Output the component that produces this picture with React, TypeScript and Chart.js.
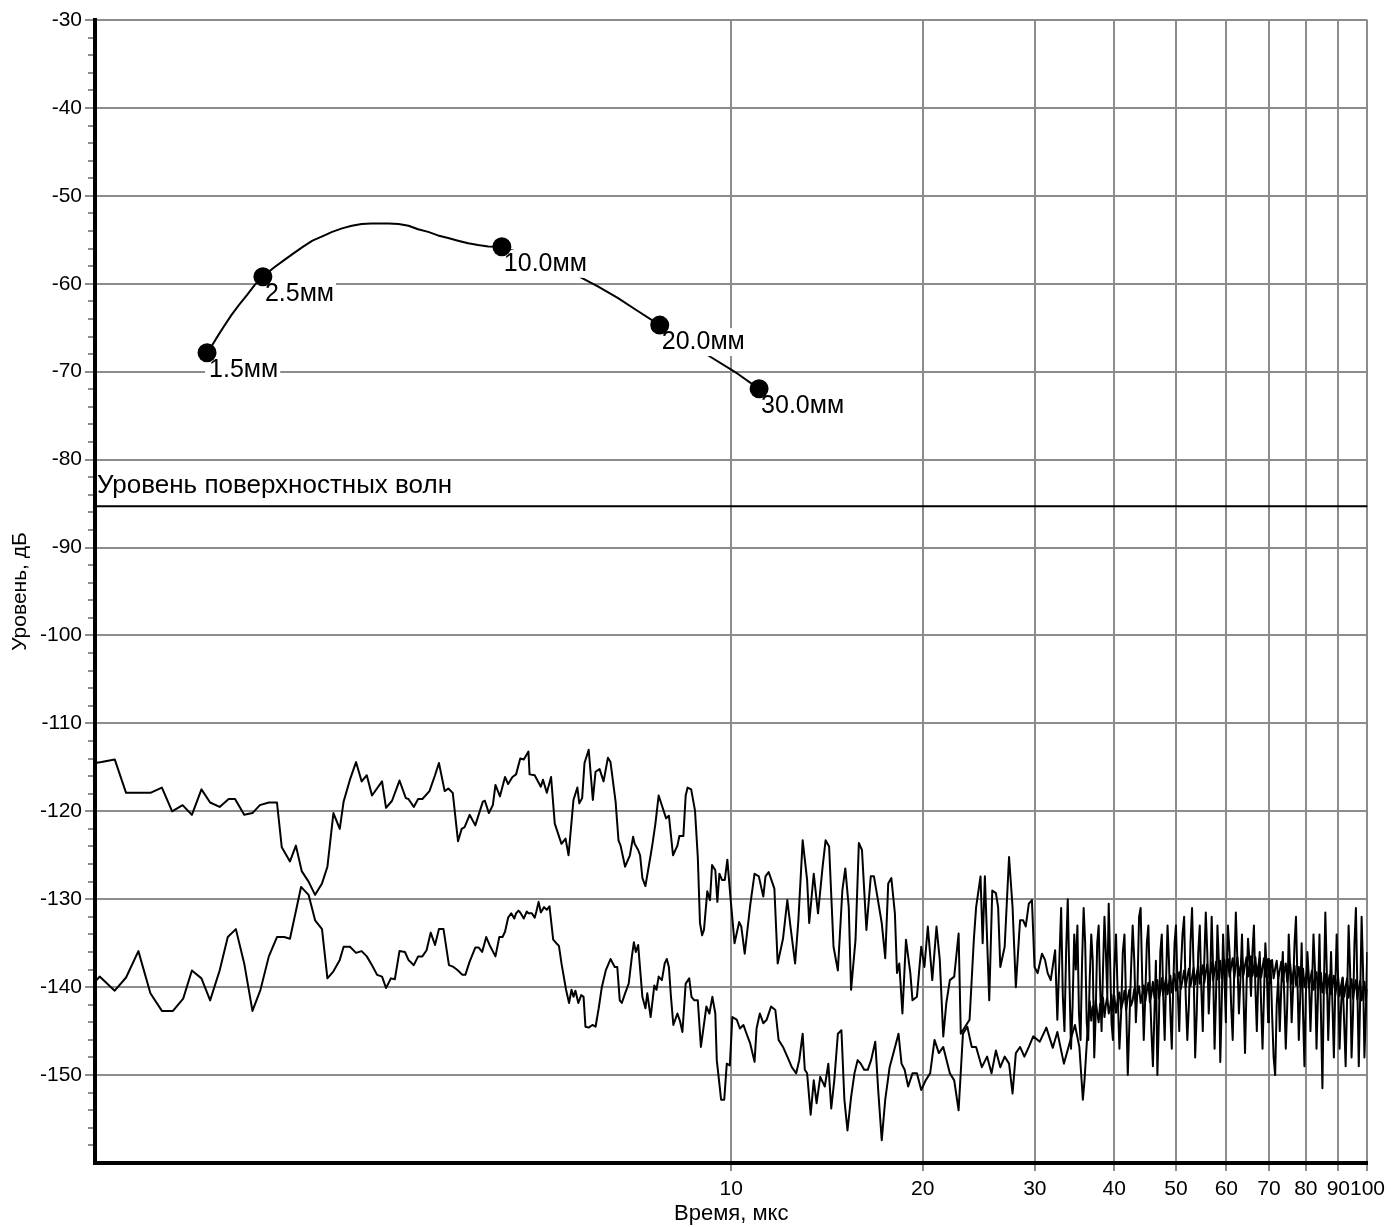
import React, { useEffect, useRef } from "react";
import { Chart, registerables } from "chart.js";

Chart.register(...registerables);

const FONT = '"Liberation Sans", Arial, Helvetica, sans-serif';

// time (µs), level (dB)
const upperSeries: number[][] = [
  [1.0, -114.5], [1.024, -114.4], [1.074, -114.1], [1.119, -117.9], [1.222, -117.9], [1.274, -117.3],
  [1.322, -120.0], [1.373, -119.3], [1.42, -120.4], [1.47, -117.5], [1.517, -119.0], [1.57, -119.5],
  [1.622, -118.6], [1.66, -118.6], [1.716, -120.4], [1.768, -120.2], [1.816, -119.3], [1.876, -119.0],
  [1.932, -119.0], [1.966, -124.1], [2.025, -125.7], [2.069, -123.9], [2.113, -126.8], [2.166, -128.0],
  [2.218, -129.5], [2.274, -128.2], [2.319, -126.3], [2.37, -120.2], [2.425, -122.0], [2.459, -118.9],
  [2.516, -116.4], [2.572, -114.4], [2.625, -116.6], [2.674, -115.9], [2.725, -118.2], [2.826, -116.6],
  [2.867, -119.6], [2.93, -118.8], [3.01, -116.5], [3.08, -118.5], [3.109, -118.6], [3.17, -119.5],
  [3.22, -118.6], [3.27, -118.6], [3.355, -117.7], [3.423, -115.9], [3.472, -114.5], [3.545, -117.7],
  [3.592, -117.4], [3.65, -117.9], [3.72, -123.4], [3.77, -122.0], [3.81, -121.8], [3.88, -120.4],
  [3.96, -121.6], [4.07, -118.9], [4.1, -118.8], [4.16, -120.2], [4.22, -119.3], [4.26, -117.0],
  [4.33, -118.3], [4.41, -116.1], [4.46, -116.9], [4.53, -116.1], [4.59, -115.8], [4.66, -114.0],
  [4.72, -114.1], [4.8, -113.2], [4.82, -115.8], [4.91, -115.9], [5.02, -117.2], [5.06, -116.4],
  [5.13, -117.9], [5.21, -116.1], [5.28, -121.4], [5.41, -123.7], [5.49, -123.1], [5.55, -125.0],
  [5.65, -118.7], [5.73, -117.3], [5.77, -119.1], [5.83, -118.5], [5.88, -114.5], [5.97, -113.0],
  [6.06, -118.7], [6.12, -115.5], [6.21, -115.2], [6.3, -116.6], [6.4, -113.9], [6.46, -114.4],
  [6.58, -118.9], [6.65, -123.3], [6.7, -123.9], [6.81, -126.3], [6.93, -125.0], [7.01, -122.9],
  [7.05, -123.7], [7.14, -124.4], [7.19, -125.0], [7.25, -127.6], [7.33, -128.5], [7.47, -125.0],
  [7.52, -123.7], [7.6, -121.4], [7.69, -118.2], [7.9, -120.8], [7.98, -120.5], [8.1, -125.0],
  [8.23, -123.9], [8.29, -122.8], [8.41, -122.8], [8.48, -118.2], [8.54, -117.3], [8.65, -117.5],
  [8.77, -119.9], [8.86, -125.2], [8.93, -132.7], [9.0, -134.1], [9.06, -133.5], [9.17, -129.1],
  [9.26, -130.1], [9.33, -126.1], [9.44, -126.7], [9.51, -130.3], [9.58, -127.1], [9.67, -127.8],
  [9.77, -127.8], [9.86, -125.5], [9.97, -129.7], [10.12, -135.0], [10.29, -132.6], [10.37, -133.1],
  [10.5, -136.2], [10.71, -130.7], [10.88, -127.1], [11.05, -127.4], [11.23, -129.7], [11.32, -127.4],
  [11.45, -126.9], [11.69, -128.8], [11.83, -137.3], [12.06, -134.5], [12.25, -130.1], [12.39, -133.1],
  [12.6, -137.3], [12.75, -132.4], [12.95, -123.3], [13.16, -127.8], [13.26, -132.7], [13.48, -127.1],
  [13.69, -131.6], [13.92, -126.3], [14.07, -123.3], [14.25, -124.0], [14.48, -135.4], [14.71, -138.1],
  [14.95, -129.0], [15.11, -126.5], [15.3, -130.9], [15.43, -140.3], [15.68, -134.6], [15.87, -123.6],
  [16.05, -124.4], [16.31, -133.5], [16.57, -127.4], [16.76, -127.4], [16.97, -129.7], [17.24, -132.7],
  [17.46, -136.7], [17.65, -128.2], [17.85, -127.6], [18.08, -131.6], [18.22, -138.4], [18.37, -137.3],
  [18.58, -143.0], [18.82, -134.6], [19.12, -138.4], [19.27, -141.5], [19.58, -141.1], [19.89, -135.4],
  [20.12, -137.7], [20.37, -133.1], [20.7, -139.2], [21.02, -133.1], [21.27, -136.9], [21.54, -145.6],
  [21.78, -141.8], [22.06, -139.2], [22.41, -138.8], [22.77, -133.9], [22.95, -145.3], [23.31, -144.5],
  [23.69, -143.7], [24.06, -134.6], [24.26, -130.9], [24.65, -127.4], [24.84, -135.0], [25.04, -127.4],
  [25.44, -141.5], [25.72, -129.0], [26.06, -129.3], [26.27, -130.9], [26.48, -137.7], [26.9, -135.4],
  [27.33, -125.2], [27.68, -130.9], [28.01, -140.0], [28.44, -132.4], [28.76, -132.4], [29.03, -133.1],
  [29.36, -130.5], [29.69, -130.1], [29.97, -137.7], [30.31, -138.4], [30.79, -136.2], [31.13, -136.9],
  [31.43, -138.4], [31.78, -139.2], [32.29, -135.8], [32.55, -143.7],
  [33.0, -131], [33.2, -141], [33.4, -145], [33.6, -136], [33.8, -130], [34.0, -139], [34.2, -147],
  [34.4, -142], [34.6, -134], [34.8, -138], [35.0, -133], [35.2, -143], [35.4, -146], [35.6, -137],
  [35.8, -131], [36.0, -135], [36.2, -144], [36.4, -146], [36.6, -139], [36.8, -134], [37.0, -137],
  [37.2, -148], [37.4, -143], [37.6, -135], [37.8, -133], [38.0, -140], [38.2, -145], [38.4, -138],
  [38.6, -132], [38.8, -136], [39.0, -141], [39.2, -130.5], [39.4, -137], [39.6, -144], [39.8, -146],
  [40.0, -138], [40.25, -134], [40.5, -141], [40.75, -147], [41.0, -143], [41.25, -136], [41.5, -134],
  [41.75, -142], [42.0, -150], [42.25, -144], [42.5, -138], [42.75, -133], [43.0, -137], [43.25, -144],
  [43.5, -140], [43.75, -132], [44.0, -131], [44.25, -139], [44.5, -146], [44.75, -141], [45.0, -135],
  [45.25, -133], [45.5, -140], [45.75, -145], [46.0, -149], [46.25, -143], [46.5, -137], [46.75, -150],
  [47.0, -144], [47.25, -136], [47.5, -134], [47.75, -141], [48.0, -146], [48.25, -139], [48.5, -133],
  [48.75, -137], [49.0, -143], [49.25, -147], [49.5, -140], [49.75, -135],
  [50.0, -133], [50.3, -140], [50.6, -145], [50.9, -138], [51.2, -134], [51.5, -132], [51.8, -141],
  [52.1, -146], [52.4, -142], [52.7, -135], [53.0, -131], [53.3, -138], [53.6, -148], [53.9, -143],
  [54.2, -136], [54.5, -133], [54.8, -140], [55.1, -145], [55.4, -137], [55.7, -131.5], [56.0, -136],
  [56.3, -143], [56.6, -139], [56.9, -132], [57.2, -138], [57.5, -147], [57.8, -141], [58.1, -133],
  [58.4, -137], [58.7, -148.5], [59.0, -142], [59.3, -134], [59.6, -139], [59.9, -144],
  [60.0, -140], [60.35, -133], [60.7, -136], [61.05, -142], [61.4, -146], [61.75, -138], [62.1, -131.5],
  [62.45, -137], [62.8, -143], [63.15, -139], [63.5, -134], [63.85, -141], [64.2, -147.5], [64.55, -140],
  [64.9, -134.5], [65.25, -137], [65.6, -141], [65.95, -136], [66.3, -133], [66.65, -140], [67.0, -145],
  [67.35, -139], [67.7, -136], [68.05, -142], [68.4, -147], [68.75, -141], [69.1, -135], [69.45, -138],
  [69.8, -144],
  [70.0, -140], [70.4, -137], [70.8, -143], [71.2, -148], [71.6, -150], [72.0, -142], [72.4, -139],
  [72.8, -145], [73.2, -140], [73.6, -136], [74.0, -141], [74.4, -147], [74.8, -142], [75.2, -134],
  [75.6, -138], [76.0, -144], [76.4, -140], [76.8, -135], [77.2, -132], [77.6, -139], [78.0, -146],
  [78.4, -141], [78.8, -135], [79.2, -143], [79.6, -149],
  [80.0, -141], [80.45, -136], [80.9, -139], [81.35, -145], [81.8, -140], [82.25, -134], [82.7, -138],
  [83.15, -147], [83.6, -141], [84.05, -134], [84.5, -143], [84.95, -151.5], [85.4, -140], [85.85, -131.5],
  [86.3, -138], [86.75, -146], [87.2, -141], [87.65, -136], [88.1, -142], [88.55, -148], [89.0, -140],
  [89.45, -134], [89.9, -139],
  [90.4, -147], [90.9, -142], [91.4, -139], [91.9, -144], [92.4, -149], [92.9, -141], [93.4, -133],
  [93.9, -138], [94.4, -148], [94.9, -143], [95.4, -135], [95.9, -131], [96.4, -140], [96.9, -149],
  [97.4, -141], [97.9, -132], [98.4, -138], [98.9, -148], [99.4, -143], [99.9, -136],
];

const lowerSeries: number[][] = [
  [1.0, -139.4], [1.017, -138.8], [1.074, -140.4], [1.119, -138.9], [1.17, -135.9], [1.222, -140.7],
  [1.274, -142.7], [1.326, -142.7], [1.376, -141.3], [1.42, -138.1], [1.47, -139.0], [1.517, -141.5],
  [1.57, -138.1], [1.617, -134.3], [1.665, -133.4], [1.716, -137.3], [1.768, -142.7], [1.82, -140.3],
  [1.876, -136.5], [1.932, -134.3], [1.983, -134.3], [2.025, -134.5], [2.108, -128.6], [2.166, -129.5],
  [2.218, -132.4], [2.274, -133.4], [2.319, -139.0], [2.37, -138.2], [2.425, -136.9], [2.459, -135.4],
  [2.516, -135.4], [2.572, -136.1], [2.625, -135.9], [2.674, -136.5], [2.725, -137.5], [2.776, -138.6],
  [2.826, -138.8], [2.867, -140.1], [2.918, -139.0], [2.96, -139.1], [3.01, -135.9], [3.07, -136.0],
  [3.109, -136.9], [3.17, -137.5], [3.22, -136.5], [3.27, -136.5], [3.32, -135.8], [3.37, -133.8],
  [3.423, -135.2], [3.472, -133.4], [3.53, -133.4], [3.6, -137.5], [3.66, -137.7], [3.72, -138.1],
  [3.78, -138.6], [3.82, -138.6], [3.88, -137.1], [3.96, -135.5], [4.01, -135.5], [4.06, -136.0],
  [4.12, -134.3], [4.17, -135.2], [4.26, -136.5], [4.32, -134.3], [4.37, -134.3], [4.41, -133.7],
  [4.46, -132.1], [4.51, -131.6], [4.56, -132.2], [4.59, -131.6], [4.63, -131.3], [4.66, -131.5],
  [4.72, -132.2], [4.77, -131.4], [4.8, -131.6], [4.86, -131.6], [4.91, -132.1], [4.94, -131.4],
  [4.98, -130.3], [5.02, -131.5], [5.08, -130.9], [5.13, -131.2], [5.18, -130.8], [5.25, -134.6],
  [5.31, -135.0], [5.36, -135.3], [5.41, -137.3], [5.5, -140.3], [5.56, -141.8], [5.61, -140.3],
  [5.65, -141.1], [5.69, -140.4], [5.75, -141.8], [5.81, -140.9], [5.86, -141.1], [5.9, -144.5],
  [5.97, -144.6], [6.05, -144.3], [6.12, -144.5], [6.19, -142.4], [6.26, -140.0], [6.35, -138.1],
  [6.46, -136.8], [6.56, -137.7], [6.62, -137.7], [6.68, -141.5], [6.73, -141.8], [6.81, -140.7],
  [6.9, -139.6], [6.98, -136.5], [7.03, -134.9], [7.08, -136.0], [7.14, -135.2], [7.25, -141.1],
  [7.33, -142.4], [7.38, -140.7], [7.47, -143.4], [7.57, -139.8], [7.63, -140.3], [7.69, -138.8],
  [7.78, -139.2], [7.86, -137.3], [7.92, -136.8], [7.98, -137.7], [8.04, -141.1], [8.11, -144.3],
  [8.23, -143.0], [8.31, -143.9], [8.38, -145.1], [8.48, -139.6], [8.59, -139.0], [8.66, -141.1],
  [8.75, -141.5], [8.86, -141.5], [8.96, -146.8], [9.14, -142.2], [9.24, -143.0], [9.34, -141.1],
  [9.44, -143.0], [9.49, -148.3], [9.64, -152.8], [9.75, -152.8], [9.84, -148.7], [9.95, -148.9],
  [10.04, -143.4], [10.2, -143.7], [10.32, -144.7], [10.45, -144.3], [10.57, -145.3], [10.71, -146.4],
  [10.88, -148.5], [10.96, -144.7], [11.09, -143.0], [11.23, -144.1], [11.37, -143.7], [11.55, -142.2],
  [11.73, -142.6], [11.87, -146.0], [12.06, -146.8], [12.25, -147.9], [12.45, -149.1], [12.65, -149.8],
  [12.79, -148.3], [12.95, -145.3], [13.05, -149.4], [13.16, -149.8], [13.33, -154.5], [13.48, -150.6],
  [13.62, -153.2], [13.8, -150.2], [14.03, -151.3], [14.21, -148.7], [14.36, -153.8], [14.52, -150.6],
  [14.71, -145.3], [14.9, -144.9], [15.06, -152.8], [15.23, -156.3], [15.43, -152.5], [15.62, -149.8],
  [15.8, -148.3], [15.98, -148.7], [16.18, -149.4], [16.39, -149.4], [16.59, -148.3], [16.84, -146.2],
  [17.02, -151.7], [17.24, -157.4], [17.46, -152.8], [17.74, -149.1], [18.03, -147.2], [18.32, -145.3],
  [18.52, -148.7], [18.73, -149.4], [18.97, -151.3], [19.27, -149.8], [19.58, -149.8], [19.89, -151.7],
  [20.21, -150.6], [20.54, -149.8], [20.87, -146.0], [21.2, -147.5], [21.54, -146.8], [22.06, -149.8],
  [22.41, -150.6], [22.77, -154.0], [23.13, -145.3], [23.5, -144.5], [23.88, -146.8], [24.26, -146.8],
  [24.77, -149.1], [25.24, -147.9], [25.65, -149.8], [26.06, -147.2], [26.48, -149.1], [26.9, -147.9],
  [27.33, -148.7], [27.68, -152.1], [28.01, -147.5], [28.44, -146.8], [28.89, -147.9], [29.36, -146.8],
  [29.83, -145.6], [30.55, -146.2], [31.28, -144.6], [32.02, -146.9], [32.55, -145.1], [33.33, -148.7],
  [34.13, -146.0], [34.69, -144.3], [35.25, -146.8], [35.7, -152.8], [35.91, -150.6], [36.37, -144.1],
  [36.6, -141.6], [36.8, -143.8], [37.0, -142.2], [37.2, -143.5], [37.4, -141.5], [37.6, -142.9],
  [37.8, -144.0], [38.0, -141.9], [38.2, -142.6], [38.4, -141.2], [38.6, -143.4], [38.8, -142.0],
  [39.0, -141.1], [39.2, -143.0], [39.4, -142.3], [39.6, -140.9], [39.8, -142.7],
  [40.0, -141.0], [40.25, -142.9], [40.5, -141.4], [40.75, -140.6], [41.0, -142.5], [41.25, -141.7],
  [41.5, -140.4], [41.75, -142.6], [42.0, -141.2], [42.25, -140.3], [42.5, -142.1], [42.75, -141.5],
  [43.0, -140.2], [43.25, -141.9], [43.5, -140.7], [43.75, -139.9], [44.0, -141.8], [44.25, -140.9],
  [44.5, -139.8], [44.75, -141.6], [45.0, -140.4], [45.25, -139.5], [45.5, -141.7], [45.75, -140.8],
  [46.0, -139.4], [46.25, -141.2], [46.5, -140.1], [46.75, -139.2], [47.0, -141.3], [47.25, -140.5],
  [47.5, -139.0], [47.75, -140.9], [48.0, -139.8], [48.25, -138.9], [48.5, -140.8], [48.75, -139.6],
  [49.0, -138.7], [49.25, -140.6], [49.5, -139.3], [49.75, -138.5],
  [50.0, -140.4], [50.3, -139.0], [50.6, -138.3], [50.9, -140.2], [51.2, -139.2], [51.5, -138.1],
  [51.8, -140.0], [52.1, -138.8], [52.4, -137.9], [52.7, -139.9], [53.0, -138.9], [53.3, -137.8],
  [53.6, -139.7], [53.9, -138.5], [54.2, -137.6], [54.5, -139.6], [54.8, -138.6], [55.1, -137.5],
  [55.4, -139.5], [55.7, -138.3], [56.0, -137.4], [56.3, -139.4], [56.6, -138.4], [56.9, -137.2],
  [57.2, -139.2], [57.5, -138.2], [57.8, -137.1], [58.1, -139.1], [58.4, -138.0], [58.7, -137.0],
  [59.0, -139.0], [59.3, -138.1], [59.6, -136.9], [59.9, -138.9],
  [60.0, -137.9], [60.35, -136.8], [60.7, -138.8], [61.05, -137.7], [61.4, -136.7], [61.75, -138.9],
  [62.1, -137.6], [62.45, -136.6], [62.8, -138.7], [63.15, -137.8], [63.5, -136.5], [63.85, -138.6],
  [64.2, -137.5], [64.55, -136.6], [64.9, -138.8], [65.25, -137.6], [65.6, -136.5], [65.95, -138.7],
  [66.3, -137.7], [66.65, -136.6], [67.0, -138.8], [67.35, -137.6], [67.7, -136.7], [68.05, -138.9],
  [68.4, -137.8], [68.75, -136.7], [69.1, -138.8], [69.45, -137.7], [69.8, -136.8],
  [70.0, -138.9], [70.4, -137.8], [70.8, -136.9], [71.2, -139.0], [71.6, -137.9], [72.0, -137.0],
  [72.4, -139.1], [72.8, -138.1], [73.2, -137.1], [73.6, -139.3], [74.0, -138.2], [74.4, -137.3],
  [74.8, -139.4], [75.2, -138.4], [75.6, -137.4], [76.0, -139.6], [76.4, -138.5], [76.8, -137.6],
  [77.2, -139.8], [77.6, -138.7], [78.0, -137.7], [78.4, -139.9], [78.8, -138.8], [79.2, -137.9],
  [79.6, -140.0],
  [80.0, -138.9], [80.45, -138.0], [80.9, -140.1], [81.35, -139.0], [81.8, -138.1], [82.25, -140.3],
  [82.7, -139.1], [83.15, -138.3], [83.6, -140.4], [84.05, -139.3], [84.5, -138.4], [84.95, -140.6],
  [85.4, -139.4], [85.85, -138.5], [86.3, -140.7], [86.75, -139.5], [87.2, -138.6], [87.65, -140.8],
  [88.1, -139.6], [88.55, -138.7], [89.0, -140.9], [89.45, -139.7], [89.9, -138.8],
  [90.4, -141.0], [90.9, -139.8], [91.4, -138.9], [91.9, -141.1], [92.4, -139.9], [92.9, -139.0],
  [93.4, -141.2], [93.9, -140.0], [94.4, -139.1], [94.9, -141.3], [95.4, -140.1], [95.9, -139.2],
  [96.4, -141.4], [96.9, -140.2], [97.4, -139.3], [97.9, -141.5], [98.4, -140.3], [98.9, -139.4],
  [99.4, -141.5], [99.9, -140.2],
];

const curveSeries: number[][] = [
  [1.5, -67.9], [1.528, -67.0], [1.567, -65.7], [1.596, -64.8], [1.637, -63.6], [1.684, -62.4],
  [1.733, -61.3], [1.784, -60.1], [1.837, -59.2], [1.907, -58.2], [1.975, -57.4], [2.046, -56.6],
  [2.121, -55.8], [2.197, -55.1], [2.276, -54.6], [2.359, -54.1], [2.445, -53.7], [2.533, -53.4],
  [2.625, -53.2], [2.72, -53.15], [2.893, -53.15], [3.0, -53.2], [3.11, -53.4], [3.22, -53.8],
  [3.34, -54.1], [3.46, -54.5], [3.59, -54.8], [3.72, -55.1], [3.86, -55.4], [4.0, -55.6],
  [4.15, -55.75], [4.36, -55.8], [4.62, -56.4], [4.97, -57.2], [5.34, -58.2], [5.74, -59.1],
  [6.17, -60.3], [6.63, -61.6], [7.13, -63.1], [7.72, -64.7], [8.54, -66.7], [9.27, -68.3],
  [10.22, -70.2], [11.06, -71.95],
];

const markerTime = [1.5, 1.836, 4.36, 7.72, 11.06];
const markerLevel = [-67.85, -59.2, -55.8, -64.7, -71.95];
const markerLabels = ["1.5мм", "2.5мм", "10.0мм", "20.0мм", "30.0мм"];

const surfaceLevel = -85.3;
const surfaceLabel = "Уровень поверхностных волн";

const xTickValues = [10, 20, 30, 40, 50, 60, 70, 80, 90, 100];
const yTickValues = [-150, -140, -130, -120, -110, -100, -90, -80, -70, -60, -50, -40, -30];
const yMinorTickValues = [
  -158, -156, -154, -152, -148, -146, -144, -142, -138, -136, -134, -132, -128, -126, -124, -122,
  -118, -116, -114, -112, -108, -106, -104, -102, -98, -96, -94, -92, -88, -86, -84, -82, -78, -76,
  -74, -72, -68, -66, -64, -62, -58, -56, -54, -52, -48, -46, -44, -42, -38, -36, -34, -32,
];

const GRID = "#8c8c8c";

const toPoints = (s: number[][]) => s.map(([x, y]) => ({ x, y }));

const labelsPlugin = {
  id: "markerLabels",
  beforeDatasetDraw(chart: any, args: any) {
    if (args.index !== 0) return;
    const ctx = chart.ctx;
    const meta = chart.getDatasetMeta(0);
    ctx.save();
    ctx.font = `25px ${FONT}`;
    ctx.textBaseline = "top";
    ctx.textAlign = "left";
    meta.data.forEach((pt: any, i: number) => {
      const text = markerLabels[i];
      const w = ctx.measureText(text).width;
      const x = pt.x + 2;
      const y = pt.y + 5;
      ctx.fillStyle = "#fff";
      ctx.fillRect(x - 4, y - 2, w + 6, 28);
      ctx.fillStyle = "#000";
      ctx.fillText(text, x, y);
    });
    const s = chart.getDatasetMeta(2).data[0];
    ctx.textBaseline = "alphabetic";
    ctx.font = `26px ${FONT}`;
    ctx.fillStyle = "#000";
    ctx.fillText(surfaceLabel, chart.chartArea.left + 2, s.y - 13);
    ctx.restore();
  },
};

const minorTicksPlugin = {
  id: "minorTicks",
  afterDraw(chart: any) {
    const ys = chart.scales.y;
    const ctx = chart.ctx;
    const left = chart.chartArea.left;
    ctx.save();
    ctx.strokeStyle = GRID;
    ctx.lineWidth = 2;
    yMinorTickValues.forEach((v) => {
      const py = Math.round(ys.getPixelForValue(v));
      ctx.beginPath();
      ctx.moveTo(left - 7, py);
      ctx.lineTo(left - 2, py);
      ctx.stroke();
    });
    ctx.restore();
  },
};

export default function App() {
  const ref = useRef<HTMLCanvasElement>(null);
  useEffect(() => {
    document.body.style.margin = "0";
    const canvas = ref.current;
    if (!canvas) return;
    Chart.defaults.font.family = FONT;
    Chart.defaults.color = "#000";
    const lineBase = {
      borderColor: "#000",
      borderWidth: 2,
      pointRadius: 0,
      pointHoverRadius: 0,
      fill: false,
      tension: 0,
      borderJoinStyle: "round" as const,
    };
    const chart = new Chart(canvas, {
      type: "line",
      data: {
        datasets: [
          {
            label: "markers",
            data: markerTime.map((x, i) => ({ x, y: markerLevel[i] })),
            showLine: false,
            pointRadius: 9.5,
            pointHoverRadius: 9.5,
            pointBackgroundColor: "#000",
            pointBorderWidth: 0,
            borderColor: "#000",
          },
          { label: "curve", data: toPoints(curveSeries), ...lineBase },
          {
            label: "surface",
            data: [
              { x: 1, y: surfaceLevel },
              { x: 100, y: surfaceLevel },
            ],
            ...lineBase,
          },
          { label: "upper", data: toPoints(upperSeries), ...lineBase },
          { label: "lower", data: toPoints(lowerSeries), ...lineBase },
        ],
      },
      options: {
        responsive: false,
        animation: false,
        devicePixelRatio: 1,
        events: [],
        layout: { padding: { top: 20, right: 19, left: 0, bottom: 0 } },
        plugins: { legend: { display: false }, tooltip: { enabled: false } },
        scales: {
          x: {
            type: "logarithmic",
            min: 1,
            max: 100,
            afterBuildTicks: (s: any) => {
              s.ticks = xTickValues.map((v) => ({ value: v }));
            },
            afterFit: (s: any) => {
              s.height = 64;
            },
            grid: { color: GRID, lineWidth: 2, tickLength: 8, tickColor: GRID, tickWidth: 2 },
            border: { display: true, color: "#000", width: 4 },
            ticks: {
              autoSkip: false,
              maxRotation: 0,
              minRotation: 0,
              padding: 6,
              color: "#000",
              font: { family: FONT, size: 21 },
              callback: (v: any) => String(v),
            },
            title: {
              display: true,
              text: "Время, мкс",
              color: "#000",
              font: { family: FONT, size: 22 },
              padding: 0,
            },
          },
          y: {
            type: "linear",
            min: -160,
            max: -30,
            afterBuildTicks: (s: any) => {
              s.ticks = yTickValues.map((v) => ({ value: v }));
            },
            afterFit: (s: any) => {
              s.width = 95;
            },
            grid: { color: GRID, lineWidth: 2, tickLength: 10, tickColor: GRID, tickWidth: 2 },
            border: { display: true, color: "#000", width: 4 },
            ticks: {
              autoSkip: false,
              padding: 3,
              color: "#000",
              font: { family: FONT, size: 21 },
              callback: (v: any) => String(v),
            },
            title: {
              display: true,
              text: "Уровень, дБ",
              color: "#000",
              font: { family: FONT, size: 21 },
              padding: { top: 8, bottom: 0 },
            },
          },
        },
      },
      plugins: [labelsPlugin, minorTicksPlugin],
    } as any);
    return () => chart.destroy();
  }, []);
  return (
    <div style={{ width: 1391, height: 1227, overflow: "hidden" }}>
      <canvas ref={ref} width={1391} height={1227} style={{ display: "block" }} />
    </div>
  );
}
